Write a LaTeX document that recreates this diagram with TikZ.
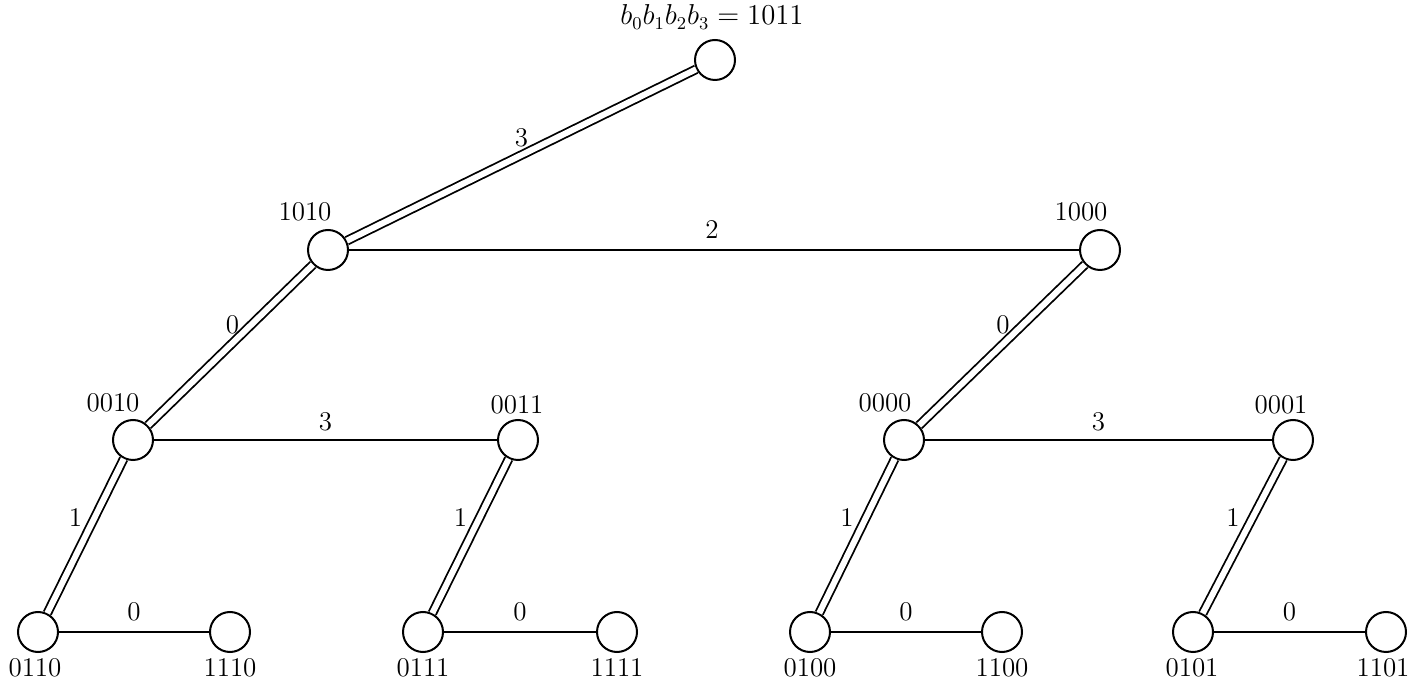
\documentclass[tikz,border=0pt]{standalone}
\begin{document}
\begin{tikzpicture}[x=0.5pt,y=-0.5pt,
  vtx/.style={circle,draw,line width=1pt,minimum size=20pt,inner sep=0pt},
  txt/.style={inner sep=1pt,font=\fontsize{13.5}{16}\selectfont},
  tree/.style={double,line width=0.9pt,double distance=3pt},
  plain/.style={line width=0.9pt},
  elab/.style={midway,inner sep=0pt,font=\fontsize{13.5}{16}\selectfont}]
\useasboundingbox (0,0) rectangle (1424,688);
\node[vtx] (n1011) at (715,60) {};
\node[vtx] (n1010) at (328,250) {};
\node[vtx] (n1000) at (1100,250) {};
\node[vtx] (n0010) at (133,440) {};
\node[vtx] (n0011) at (518,440) {};
\node[vtx] (n0000) at (904,440) {};
\node[vtx] (n0001) at (1293,440) {};
\node[vtx] (n0110) at (38,632) {};
\node[vtx] (n1110) at (230,632) {};
\node[vtx] (n0111) at (423,632) {};
\node[vtx] (n1111) at (617,632) {};
\node[vtx] (n0100) at (810,632) {};
\node[vtx] (n1100) at (1002,632) {};
\node[vtx] (n0101) at (1193,632) {};
\node[vtx] (n1101) at (1386,632) {};
% vertex labels
\node[txt] (t1011) at (712,17) {$b_0b_1b_2b_3 = 1011$};
\node[txt] (t1010) at (305,212) {1010};
\node[txt] (t1000) at (1081,212) {1000};
\node[txt] (t0010) at (113,403) {0010};
\node[txt] (t0011) at (517,405) {0011};
\node[txt] (t0000) at (885,403) {0000};
\node[txt] (t0001) at (1281,405) {0001};
\node[txt] (t0110) at (35,668) {0110};
\node[txt] (t1110) at (230,668) {1110};
\node[txt] (t0111) at (423,668) {0111};
\node[txt] (t1111) at (617,668) {1111};
\node[txt] (t0100) at (810,668) {0100};
\node[txt] (t1100) at (1002,668) {1100};
\node[txt] (t0101) at (1192,668) {0101};
\node[txt] (t1101) at (1383,668) {1101};
% tree edges
\draw[tree] (n1011) -- node[elab,shift={(0,-17)}] (e1) {3} (n1010);
\draw[tree] (n1010) -- node[elab,shift={(2,-20)}] (e2) {0} (n0010);
\draw[tree] (n1000) -- node[elab,shift={(1,-20)}] (e3) {0} (n0000);
\draw[tree] (n0010) -- node[elab,shift={(-10,-18)}] (e4) {1} (n0110);
\draw[tree] (n0011) -- node[elab,shift={(-10,-18)}] (e5) {1} (n0111);
\draw[tree] (n0000) -- node[elab,shift={(-10,-18)}] (e6) {1} (n0100);
\draw[tree] (n0001) -- node[elab,shift={(-10,-18)}] (e7) {1} (n0101);
% other edges
\draw[plain] (n1010) -- node[elab,shift={(-2,-20)}] (e8) {2} (n1000);
\draw[plain] (n0010) -- node[elab,shift={(0,-18)}] (e9) {3} (n0011);
\draw[plain] (n0000) -- node[elab,shift={(0,-18)}] (e10) {3} (n0001);
\draw[plain] (n0110) -- node[elab,shift={(0,-20)}] (e11) {0} (n1110);
\draw[plain] (n0111) -- node[elab,shift={(0,-20)}] (e12) {0} (n1111);
\draw[plain] (n0100) -- node[elab,shift={(0,-20)}] (e13) {0} (n1100);
\draw[plain] (n0101) -- node[elab,shift={(0,-20)}] (e14) {0} (n1101);
\end{tikzpicture}
\end{document}
